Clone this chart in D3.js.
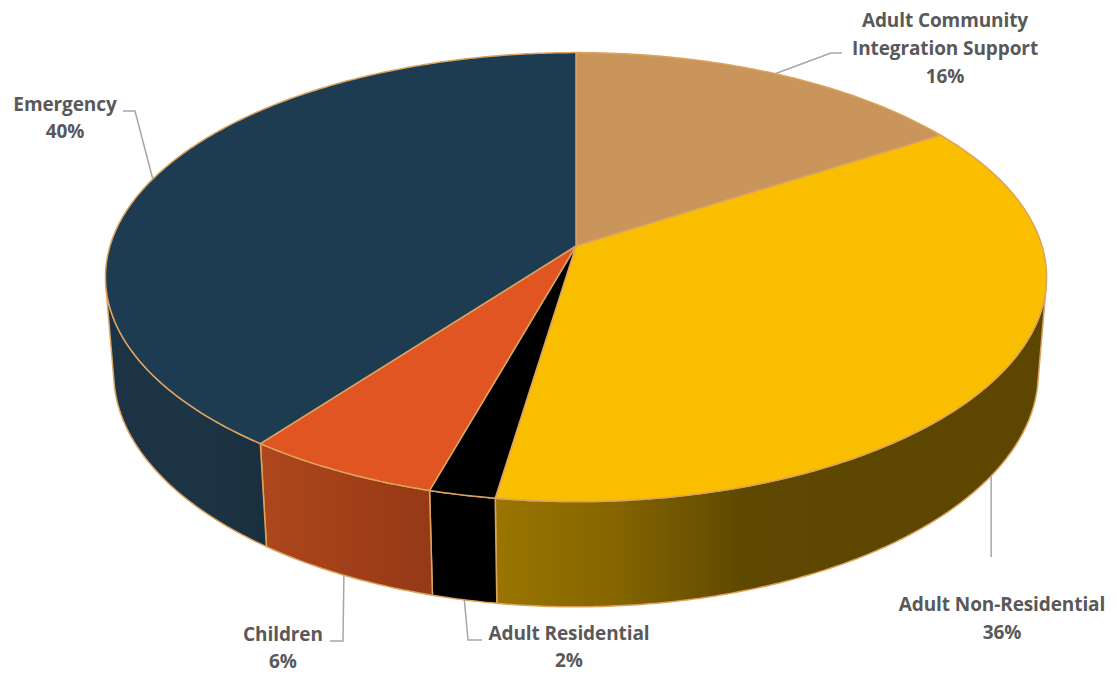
<!DOCTYPE html>
<html>
<head>
<meta charset="utf-8">
<script src="https://cdn.jsdelivr.net/npm/d3@7"></script>
<style>
  html, body { margin: 0; padding: 0; background: #ffffff; }
  svg { display: block; }
  .lbl { font-family: "Open Sans", "Liberation Sans", sans-serif; font-weight: 700; fill: #595959; letter-spacing: -0.1px; }
</style>
</head>
<body>
<svg id="chart" width="1117" height="676"></svg>
<script>
// ---- Data ----
const categories = ["Adult Community Integration Support", "Adult Non-Residential", "Adult Residential", "Children", "Emergency"];
const values = [15.9, 36.49, 2.0, 5.9, 39.71];
const pctLabels = ["16%", "36%", "2%", "6%", "40%"];
const labelLines = [["Adult Community", "Integration Support", "16%"], ["Adult Non-Residential", "36%"], ["Adult Residential", "2%"], ["Children", "6%"], ["Emergency", "40%"]];

// ---- Styles ----
const topColors = ["#C9955A", "#F9BE00", "#000000", "#E05522", "#1E3C51"];
const wallStops = [
  [["0", "#9C7046"], ["1", "#7A5530"]],
  [["0", "#9A7500"], ["0.22", "#856500"], ["0.45", "#5F4800"], ["1", "#5C4600"]],
  [["0", "#000000"], ["1", "#000000"]],
  [["0", "#AE471C"], ["1", "#953916"]],
  [["0", "#1B3345"], ["0.6", "#1D3444"], ["1", "#192F3E"]]
];
const edgeColor = "#DCA35F";

// ---- Layout ----
const cx = 576, cy = 246, S = 466;
const sinA = 0.4725, cosA = Math.sqrt(1 - sinA * sinA);
const D = 6.36, H = 0.236;

function proj(theta, Y) {
  const X = Math.sin(theta), Z = -Math.cos(theta);
  const up = Y * cosA - Z * sinA;
  const depth = Y * sinA + Z * cosA;
  const k = D / (D - depth);
  return [cx + S * X * k, cy - S * up * k];
}

const svg = d3.select("#chart");
const defs = svg.append("defs");
wallStops.forEach((stops, i) => {
  const g = defs.append("linearGradient").attr("id", "wall" + i)
    .attr("x1", 0).attr("y1", 0).attr("x2", 1).attr("y2", 0);
  stops.forEach(s => g.append("stop").attr("offset", s[0]).attr("stop-color", s[1]));
});

const pie = d3.pie().sort(null).value(d => d).startAngle(0).endAngle(2 * Math.PI);
const arcs = pie(values);

const thV0 = Math.acos(-1 / (D * cosA));
const thV1 = 2 * Math.PI - thV0;

function arcPoints(a0, a1, Y) {
  const n = Math.max(2, Math.ceil((a1 - a0) / 0.01));
  const pts = [];
  for (let i = 0; i <= n; i++) pts.push(proj(a0 + (a1 - a0) * i / n, Y));
  return pts;
}
const line = d3.line();

// walls (front-facing only)
const wallG = svg.append("g");
arcs.forEach((a, i) => {
  const b0 = Math.max(a.startAngle, thV0), b1 = Math.min(a.endAngle, thV1);
  if (b1 <= b0) return;
  const top = arcPoints(b0, b1, 0);
  const bot = arcPoints(b0, b1, -H).reverse();
  wallG.append("path")
    .attr("d", line(top.concat(bot)) + "Z")
    .attr("fill", "url(#wall" + i + ")")
    .attr("stroke", edgeColor).attr("stroke-width", 1.5)
    .attr("stroke-linejoin", "round");
});

// top faces
const topG = svg.append("g");
arcs.forEach((a, i) => {
  const pts = [[cx, cy]].concat(arcPoints(a.startAngle, a.endAngle, 0));
  topG.append("path")
    .attr("d", line(pts) + "Z")
    .attr("fill", topColors[i])
    .attr("stroke", edgeColor).attr("stroke-width", 1.5)
    .attr("stroke-linejoin", "round");
});

// leader lines & labels
const labelPos = [
  { x: 945, y: 20, dy: 28, leader: (p) => [p, [831, 53], [842, 53]], atTop: true },
  { x: 1002, y: 604, dy: 28, leader: (p) => [p, [p[0], 557]], atTop: false },
  { x: 569, y: 633, dy: 27, leader: (p) => [p, [468, 640], [482, 640]], atTop: false },
  { x: 283, y: 634, dy: 27, leader: (p) => [p, [343, 641], [330, 641]], atTop: false },
  { x: 65, y: 104, dy: 27, leader: (p) => [p, [135, 111], [123, 111]], atTop: true }
];
const labG = svg.append("g");
arcs.forEach((a, i) => {
  const mid = (a.startAngle + a.endAngle) / 2;
  const lp = labelPos[i];
  const p = proj(mid, lp.atTop ? 0 : -H);
  labG.append("path")
    .attr("d", line(lp.leader(p)))
    .attr("fill", "none").attr("stroke", "#A6A6A6").attr("stroke-width", 1.5);
  const t = labG.append("text").attr("class", "lbl")
    .attr("text-anchor", "middle").attr("font-size", 19);
  labelLines[i].forEach((s, j) => {
    t.append("tspan").attr("x", lp.x).attr("y", lp.y + j * lp.dy)
      .attr("dominant-baseline", "central").text(s);
  });
});
</script>
</body>
</html>
